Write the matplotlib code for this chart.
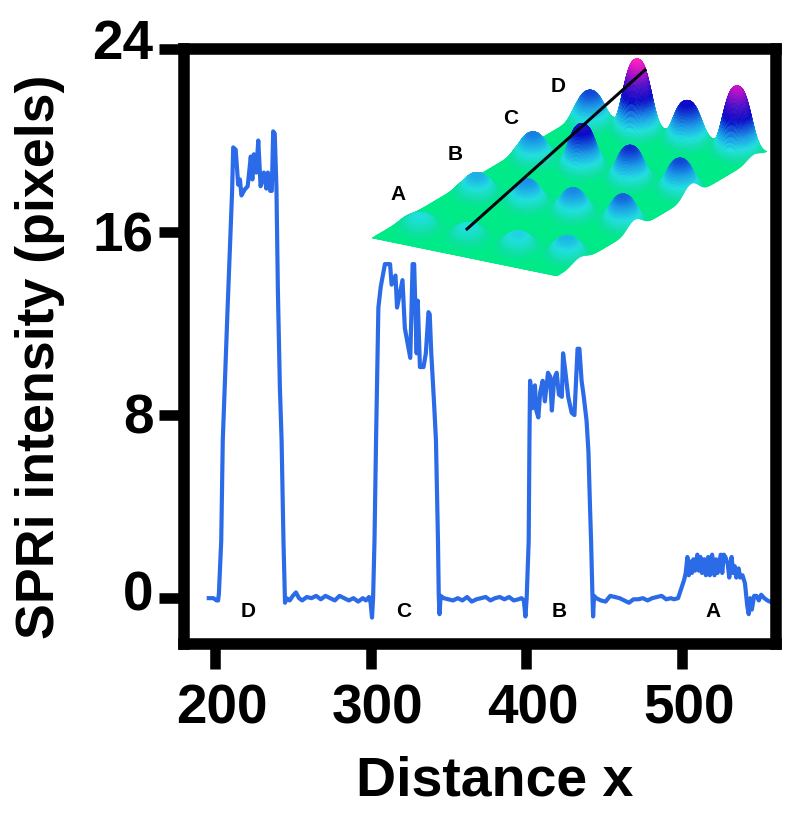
# -*- coding: utf-8 -*-
import numpy as np
import matplotlib
matplotlib.use("Agg")
import matplotlib.pyplot as plt
from matplotlib.collections import PolyCollection
from matplotlib.colors import LinearSegmentedColormap
from matplotlib.transforms import ScaledTranslation

plt.rcParams['font.family'] = ['Liberation Sans', 'DejaVu Sans']

#%% line profile

peak_d_x = [196, 199, 201, 202, 202.5, 204, 205, 208, 211, 211.7, 213.3, 214.9, 216, 217, 219, 221, 223, 224, 225,
            226.5, 227.8, 229.3, 231.4, 233, 234, 235.5, 236.5, 237.4, 238.4, 239.5, 240.4, 241.7, 242.8, 244, 245]
peak_d_y = [0, 0, -0.1, -0.1, 0.2, 2.5, 6.9, 12.5, 17.8, 19.7, 19.6, 18.07, 18.3, 17.6, 17.85, 18, 19.3, 18.3, 19.4,
            18.6, 20, 18, 18.6, 17.9, 18.6, 17.8, 17.8, 20.4, 20.3, 17.9, 13.5, 9.2, 6.9, 2.5, -0.2]
base_1_x = [246, 248, 250, 252, 254, 256, 259, 262, 265, 268, 271, 274, 277, 280, 283, 286, 289, 292, 295, 297, 299, 300, 300.9]
base_1_y = [0, -0.1, 0.1, 0.25, 0, -0.1, 0.05, 0, 0.1, -0.05, 0.1, 0, -0.1, 0.1, 0, -0.1, 0, -0.15, 0, -0.1, 0.05, -0.2, -0.85]
peak_c_x = [301.6, 302.5, 303.5, 305, 306.5, 309.2, 312.5, 313.5, 316, 317, 320.5, 322, 325.5, 327, 328, 329.6, 330.3,
            331.7, 334, 335.5, 337.2, 338, 339, 340.8, 342, 343.3, 343.8]
peak_c_y = [0, 2.5, 6.9, 12.7, 13.6, 14.6, 14.6, 13.7, 14.1, 12.7, 13.9, 11.8, 10.5, 14.6, 14.6, 10.7, 13,
            10.1, 10.1, 10.7, 12.5, 12.4, 10.7, 8.5, 6.9, 2.5, 0.1]
base_2_x = [344.3, 345, 347, 350, 353, 356, 359, 362, 365, 368, 371, 374, 377, 380, 383, 386, 389, 392, 395, 397, 398.5, 399.5]
base_2_y = [-0.7, 0.1, 0, -0.05, -0.1, 0, -0.1, 0.05, -0.15, -0.05, 0, 0.05, -0.1, 0, 0.05, -0.05, 0.05, -0.1, -0.05, 0, -0.1, -0.8]
peak_b_x = [400.3, 401.6, 402.1, 402.5, 404, 405.6, 406.5, 407.8, 409, 410.6, 412, 414, 415.3, 416.5, 418, 419.6, 421, 422.9,
            423.7, 425, 427, 429.2, 431, 433, 434.2, 435.6, 437, 438.8, 440, 441, 441.7, 442.5, 443]
peak_b_y = [0, 2.5, 7, 9.5, 8.3, 9.3, 8.2, 7.9, 9, 9.5, 8.6, 9.85, 9.7, 8.2, 9.6, 9.85, 8.9, 8.8,
            10.7, 10, 8.8, 8.1, 8, 10.9, 10.9, 9.5, 8.8, 7.75, 6.4, 4, 2.5, 0.3, -0.8]
base_3_x = [443.6, 445, 448, 451, 454, 457, 460, 463, 466, 469, 472, 475, 478, 481, 484, 487, 490, 493, 495, 497.6]
base_3_y = [0.1, 0, -0.1, -0.15, 0.1, 0.05, 0, -0.1, -0.2, -0.05, -0.05, 0, -0.1, 0, 0.05, 0.1, -0.05, 0, -0.05, 0]
peak_a_x = [500, 501.5, 502.5, 503.6, 504.5, 505.5, 506.5, 507.5, 508.5, 510, 511, 512, 513, 514.5, 515.5, 517, 518, 519.5,
            521, 522, 523, 525, 526, 527, 528, 529.5, 530.5, 532, 533, 534, 535, 536.5, 537.5, 539, 540.6]
peak_a_y = [0.5, 0.8, 1.1, 1.8, 1.0, 1.6, 1.1, 1.7, 1.2, 1.9, 1.2, 1.8, 1.1, 1.7, 1.0, 1.8, 1.0, 1.9,
            1.0, 1.7, 1.1, 1.9, 1.1, 1.9, 1.8, 1.5, 0.9, 1.8, 1.1, 1.4, 0.9, 1.3, 0.9, 1.0, 0.65]
base_4_x = [542, 543, 544, 545, 546.5, 548, 549.5, 551, 553, 555, 556.6]
base_4_y = [-0.3, -0.7, 0, -0.5, 0.1, 0.1, -0.1, 0.15, 0, -0.1, -0.15]

dist_x = peak_d_x + base_1_x + peak_c_x + base_2_x + peak_b_x + base_3_x + peak_a_x + base_4_x
spr_y = peak_d_y + base_1_y + peak_c_y + base_2_y + peak_b_y + base_3_y + peak_a_y + base_4_y

x_ticks = [200, 300, 400, 500]
y_ticks = [0, 8, 16, 24]
band_labels = ['D', 'C', 'B', 'A']
band_label_x = [221.5, 321.5, 421.5, 520]

#%% inset surface: spot heights in pixels, rows A to D
spot_heights = [[11, 11, 13, 17],
                [18, 22, 23, 27],
                [24, 42, 33, 30],
                [30, 70, 38, 63]]
spot_px_x = [[420, 468, 518, 567],
             [477, 527, 573, 623],
             [533, 582, 630, 680],
             [590, 637, 687, 737]]
spot_px_y = [[227, 237, 247, 255],
             [193, 203, 213, 223],
             [158, 167, 180, 190],
             [122, 130, 140, 150]]
row_labels = ['A', 'B', 'C', 'D']
row_label_px = [(398, 195), (455, 155), (511, 119), (558, 86)]
line_px_x = [467, 645]
line_px_y = [229, 70]

W, H = 800, 815
fig = plt.figure(figsize=(W / 100, H / 100), dpi=100)

left, right, top, bottom = 184, 776, 49, 643.5
ax = fig.add_axes([left / W, 1 - bottom / H, (right - left) / W, (bottom - top) / H])
ax.plot(dist_x, spr_y, color='#2b6be8', lw=3.0, solid_joinstyle='round')
ax.set_xlim(200 + (left - 215) / 1.556, 200 + (right - 215) / 1.556)
ax.set_ylim((598 - bottom) / 22.96, (598 - top) / 22.96)
ax.set_xticks(x_ticks)
ax.set_yticks(y_ticks)
ax.tick_params(width=7.6, length=18, labelsize=39.5, pad=4)
ax.tick_params(axis='x', pad=11)
for lab in ax.get_xticklabels():
    lab.set_fontweight('bold')
    lab.set_transform(lab.get_transform() + ScaledTranslation(7 / 100, 0, fig.dpi_scale_trans))
# the y numbers sit a little above their ticks, most at both ends
for lab, up in zip(ax.get_yticklabels(), [8, 2, 1, 10]):
    lab.set_fontweight('bold')
    lab.set_transform(lab.get_transform() + ScaledTranslation(0, up / 100, fig.dpi_scale_trans))
for sp in ax.spines.values():
    sp.set_linewidth(8.3)
for s, xv in zip(band_labels, band_label_x):
    ax.text(xv, -0.6, s, fontsize=15, fontweight='bold', ha='center', va='center')

#%% overlay in picture pixels for the inset
ov = fig.add_axes([0, 0, 1, 1], facecolor='none')
ov.set_xlim(0, W)
ov.set_ylim(H, 0)
ov.axis('off')

ov.text(495, 782, 'Distance x', fontsize=40, fontweight='bold', ha='center', va='center')
ov.text(40, 357, 'SPRi intensity (pixels)', fontsize=38.7, fontweight='bold', rotation=90,
        ha='center', va='center')

cmap = LinearSegmentedColormap.from_list('spr', [(0, '#00ea88'), (0.06, '#10dfa8'), (0.16, '#20dfe0'),
                                                 (0.3, '#1a9ae8'), (0.52, '#0a0ac8'), (0.71, '#5010c8'),
                                                 (0.86, '#b010c8'), (1, '#ff20c0')])

corner = np.array([372.0, 238.0])
e_u = np.array([185.0, 38.0])   # along a row
e_v = np.array([210.0, -124.0]) # across the rows

nu, nv = 260, 200
uu, vv = np.meshgrid(np.linspace(0, 1, nu), np.linspace(0, 1, nv))
gx = corner[0] + uu * e_u[0] + vv * e_v[0]
gy = corner[1] + uu * e_u[1] + vv * e_v[1]
zz = np.zeros_like(uu)
for i in range(4):
    for j in range(4):
        r2 = (gx - spot_px_x[i][j]) ** 2 + ((gy - spot_px_y[i][j]) / 0.6) ** 2
        zz += spot_heights[i][j] * np.exp(-(r2 / 17.0 ** 2) ** 1.4)
py = gy - zz

quads = []
cols = []
for k in range(nv - 2, -1, -1):   # back row first so that near cells paint over
    for m in range(nu - 1):
        quads.append([(gx[k, m], py[k, m]), (gx[k, m + 1], py[k, m + 1]),
                      (gx[k + 1, m + 1], py[k + 1, m + 1]), (gx[k + 1, m], py[k + 1, m])])
        cols.append(zz[k:k + 2, m:m + 2].mean())
rgba = cmap(np.array(cols) / 70.0)
ov.add_collection(PolyCollection(quads, facecolors=rgba, edgecolors=rgba, linewidths=0.4))
ov.plot(line_px_x, line_px_y, color='#050510', lw=2.2)
for s, (lx, ly) in zip(row_labels, row_label_px):
    ov.text(lx, ly, s, fontsize=15, fontweight='bold', ha='center', va='center')

fig.savefig('out.png', dpi=100)
